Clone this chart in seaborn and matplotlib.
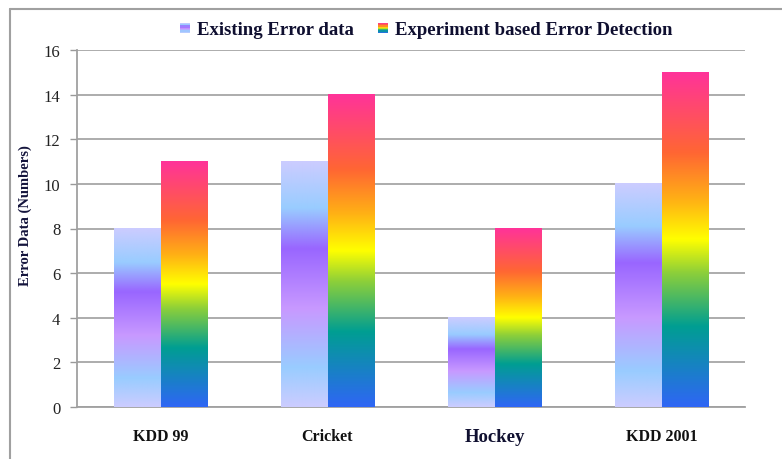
import numpy as np
import pandas as pd
import matplotlib
matplotlib.use("Agg")
import matplotlib.pyplot as plt
import seaborn as sns
from matplotlib.colors import LinearSegmentedColormap
from matplotlib.legend_handler import HandlerBase
from matplotlib.patches import Rectangle
from matplotlib.lines import Line2D

# ---- data ----
categories = ["KDD 99", "Cricket", "Hockey", "KDD 2001"]
series_names = ["Existing Error data", "Experiment based Error Detection"]
existing = [8, 11, 4, 10]
experiment = [11, 14, 8, 15]
y_ticks = [0, 2, 4, 6, 8, 10, 12, 14, 16]

df = pd.DataFrame({
    "category": categories * 2,
    "series": [series_names[0]] * len(categories) + [series_names[1]] * len(categories),
    "value": existing + experiment,
})

# vertical fills for the two series (bottom -> top)
cmap_existing = LinearSegmentedColormap.from_list("existing", [
    (0.00, "#ccccff"), (0.16, "#99ccff"), (0.40, "#c899ff"),
    (0.645, "#9966ff"), (0.81, "#99ccff"), (1.00, "#ccccff")])
cmap_experiment = LinearSegmentedColormap.from_list("experiment", [
    (0.00, "#2f66f5"), (0.24, "#009e92"), (0.40, "#8ccf3a"),
    (0.50, "#ffff00"), (0.62, "#ffb015"), (0.76, "#ff6633"), (1.00, "#ff3399")])
cmaps = [cmap_existing, cmap_experiment]

sns.set_style("white")
plt.rcParams["font.family"] = ["Liberation Serif", "DejaVu Serif"]

fig = plt.figure(figsize=(7.82, 4.60), dpi=100)
ax = fig.add_axes([77 / 782, (460 - 408) / 460, 668 / 782, 357 / 460])

sns.barplot(data=df, x="category", y="value", hue="series", order=categories,
            hue_order=series_names, width=0.56, ax=ax, legend=False,
            palette=["#ccccff", "#ff3399"], saturation=1)

grad = np.linspace(0, 1, 256).reshape(-1, 1)
for cont, cmap in zip(ax.containers, cmaps):
    for bar in cont:
        x0, w, h = bar.get_x(), bar.get_width(), bar.get_height()
        bar.set_facecolor("none")
        bar.set_edgecolor("none")
        ax.imshow(grad, cmap=cmap, origin="lower", aspect="auto",
                  extent=[x0, x0 + w, 0, h], zorder=3, interpolation="bilinear")

ax.set_xlim(-0.5, len(categories) - 0.5)
ax.set_ylim(0, 16)
ax.set_yticks(y_ticks)
ax.set_yticklabels([str(t) for t in y_ticks], fontsize=12, color="#222222")
ax.yaxis.grid(True, color="#a6a6a6", linewidth=1.3)
ax.set_axisbelow(True)

# category labels centred under groups, ticks at group boundaries
ax.set_xticks(range(len(categories)))
ax.set_xticklabels(categories)
for lbl in ax.get_xticklabels():
    lbl.set_fontweight("bold")
    if lbl.get_text() == "Hockey":
        lbl.set_fontsize(13.5)
        lbl.set_color("#101030")
    else:
        lbl.set_fontsize(11.5)
        lbl.set_color("#111111")
ax.set_xticks(np.arange(-0.5, len(categories), 1.0), minor=True)
ax.tick_params(axis="x", which="major", length=0, pad=15)
ax.tick_params(axis="x", which="minor", length=4, width=1, color="#999999", direction="out")
ax.tick_params(axis="y", length=5, width=1, color="#999999", direction="out", pad=7, left=True)

ax.set_xlabel("")
ax.set_ylabel("")
for side in ["top", "right"]:
    ax.spines[side].set_visible(False)
for side in ["left", "bottom"]:
    ax.spines[side].set_color("#a0a0a0")
    ax.spines[side].set_linewidth(1.3)

fig.text(25 / 782, 1 - 216 / 460, "Error Data (Numbers)", rotation=90,
         ha="center", va="center", fontsize=10.5, fontweight="bold", color="#14143c")


class GradientHandler(HandlerBase):
    def __init__(self, cmap, n=8):
        super().__init__()
        self.cmap = cmap
        self.n = n

    def create_artists(self, legend, orig_handle, xdescent, ydescent,
                       width, height, fontsize, trans):
        size = min(width, height)
        x0 = -xdescent + (width - size) / 2
        y0 = -ydescent + (height - size) / 2
        arts = []
        for i in range(self.n):
            c = self.cmap((i + 0.5) / self.n)
            r = Rectangle((x0, y0 + i * size / self.n), size, size / self.n,
                          facecolor=c, edgecolor="none", transform=trans)
            arts.append(r)
        return arts


h1 = Line2D([], [])
h2 = Line2D([], [])
leg = fig.legend([h1, h2], series_names, loc="center", bbox_to_anchor=(426 / 782, 1 - 31 / 460),
                 ncol=2, frameon=False, handlelength=0.55, handleheight=0.55,
                 handletextpad=0.35, columnspacing=1.3,
                 prop={"family": "Liberation Serif", "weight": "bold", "size": 13.5},
                 handler_map={h1: GradientHandler(cmap_existing), h2: GradientHandler(cmap_experiment)})
for t in leg.get_texts():
    t.set_color("#0f0f30")

# chart frame (top and left edges)
fig.add_artist(Line2D([10 / 782, 10 / 782], [0, 1 - 10 / 460], transform=fig.transFigure,
                      color="#a0a0a0", linewidth=1.5))
fig.add_artist(Line2D([10 / 782, 1], [1 - 10 / 460, 1 - 10 / 460], transform=fig.transFigure,
                      color="#a0a0a0", linewidth=1.5))

fig.savefig("out.png", dpi=100)
